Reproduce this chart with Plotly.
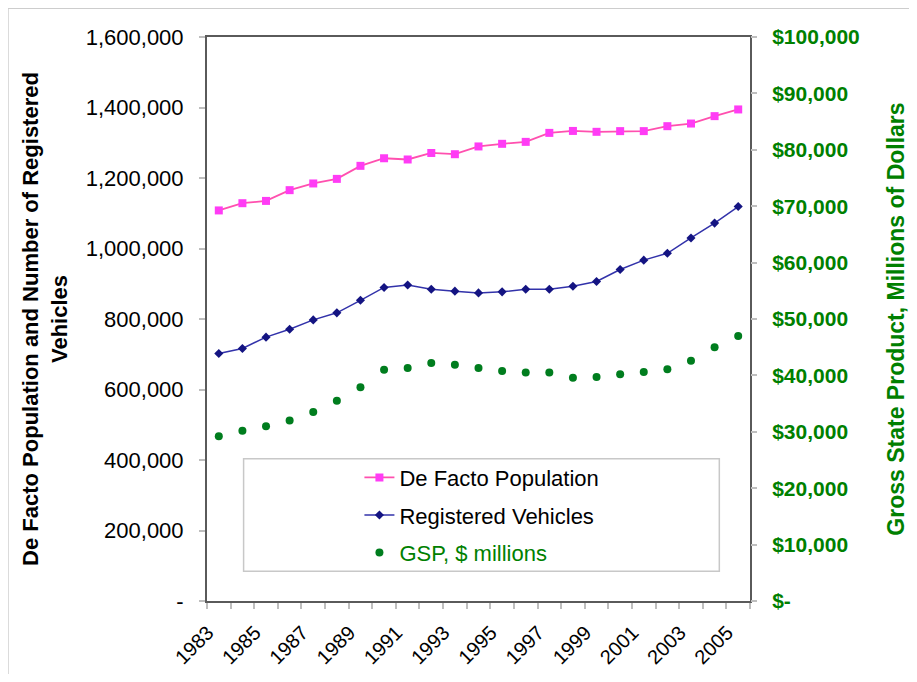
import plotly.graph_objects as go

# data
years = list(range(1983, 2006))

population = [1108000, 1128500, 1135000, 1165500, 1184500, 1197500, 1234500,
              1256000, 1252500, 1271000, 1267500, 1289500, 1297000, 1302500,
              1328000, 1333500, 1331000, 1333000, 1333000, 1347000, 1354500,
              1375500, 1394500]

vehicles = [702000, 716500, 748500, 771000, 797500, 817500, 853000, 889500,
            896500, 884500, 879000, 874000, 877000, 884500, 884500, 893000,
            906500, 940500, 967000, 986500, 1030000, 1072000, 1119000]

gsp = [29200, 30200, 31000, 32000, 33500, 35500, 37900, 41000, 41300, 42200,
       41900, 41300, 40800, 40500, 40500, 39600, 39700, 40200, 40600, 41100,
       42600, 45000, 47000]

left_ticks = [0, 200000, 400000, 600000, 800000, 1000000, 1200000, 1400000, 1600000]
right_ticks = [0, 10000, 20000, 30000, 40000, 50000, 60000, 70000, 80000, 90000, 100000]
year_labels = years[::2]

FONT = "Arial, Liberation Sans, sans-serif"
GREEN = "rgb(0,128,0)"
TICKGREY = "rgb(190,190,190)"

fig = go.Figure()
fig.add_trace(go.Scatter(
    x=years, y=population, name="De Facto Population", mode="lines+markers",
    line=dict(color="rgb(255,80,175)", width=1.8),
    marker=dict(symbol="square", size=8, color="rgb(255,60,245)"),
    legendgroup="a"))
fig.add_trace(go.Scatter(
    x=years, y=vehicles, name="Registered Vehicles", mode="lines+markers",
    line=dict(color="rgb(50,50,170)", width=1.5),
    marker=dict(symbol="diamond", size=7, color="rgb(20,20,130)"),
    legendgroup="b"))
fig.add_trace(go.Scatter(
    x=years, y=gsp, name="<span style='color:rgb(0,128,0)'>GSP, $ millions</span>",
    mode="markers", yaxis="y2",
    marker=dict(symbol="circle", size=8, color="rgb(0,125,30)"),
    legendgroup="c"))

# the page body has an 8px margin on every side; size the figure so nothing overflows
fig.update_layout(
    width=901, height=666,
    margin=dict(l=199, r=159, t=29, b=73, autoexpand=False),
    paper_bgcolor="white", plot_bgcolor="white",
    font=dict(family=FONT, size=20, color="black"),
    showlegend=True,
    legend=dict(x=0.2807, y=0.256, xanchor="left", yanchor="top",
                bgcolor="rgba(0,0,0,0)", borderwidth=0,
                font=dict(size=22, color="black"), tracegroupgap=6),
    xaxis=dict(
        range=[years[0] - 0.5, years[-1] + 0.5],
        tickmode="array", tickvals=year_labels, ticktext=[str(y) for y in year_labels],
        tickangle=-45, tickfont=dict(size=20), ticks="outside", ticklen=0,
        ticklabelstandoff=10, ticklabelshift=-11,
        minor=dict(ticks="outside", ticklen=6, tick0=years[0] - 0.5, dtick=1,
                   tickcolor=TICKGREY, tickwidth=1.5, showgrid=False),
        showgrid=False, zeroline=False,
        showline=True, linecolor="rgb(90,90,90)", linewidth=2, mirror=True,
    ),
    yaxis=dict(
        range=[0, 1600000],
        tickmode="array", tickvals=left_ticks,
        ticktext=["-" if v == 0 else f"{v:,}" for v in left_ticks],
        tickfont=dict(size=22), ticks="outside", ticklen=6,
        tickcolor=TICKGREY, tickwidth=1.5, ticklabelstandoff=11,
        showgrid=False, zeroline=False,
        showline=True, linecolor="rgb(90,90,90)", linewidth=2, mirror=True,
        title=dict(text="De Facto Population and Number of Registered<br>Vehicles",
                   font=dict(size=22, color="black", family=FONT, weight="bold"),
                   standoff=12),
        automargin=False,
    ),
    yaxis2=dict(
        range=[0, 100000], overlaying="y", side="right",
        tickmode="array", tickvals=right_ticks,
        ticktext=["$-" if v == 0 else f"${v:,}" for v in right_ticks],
        tickfont=dict(size=21, color=GREEN, weight="bold"),
        ticks="outside", ticklen=6, tickcolor=TICKGREY, tickwidth=1.5,
        ticklabelstandoff=11, showgrid=False, zeroline=False,
        title=dict(text="Gross State Product, Millions of Dollars",
                   font=dict(size=23, color=GREEN, family=FONT, weight="bold"),
                   standoff=31),
        automargin=False,
    ),
)

# legend frame
fig.add_shape(type="rect", xref="paper", yref="paper",
              x0=0.0674, x1=0.9435, y0=0.0527, y1=0.2520,
              line=dict(color="rgb(200,200,200)", width=1.5), layer="above")
# slide frame edges around the chart
fig.add_shape(type="line", xref="paper", yref="paper",
              x0=-0.367, x1=1.32, y0=1.0515, y1=1.0515,
              line=dict(color="rgb(205,205,205)", width=2))
fig.add_shape(type="line", xref="paper", yref="paper",
              x0=-0.367, x1=-0.367, y0=-0.2, y1=1.0515,
              line=dict(color="rgb(205,205,205)", width=2))

fig.write_html("out.html")
